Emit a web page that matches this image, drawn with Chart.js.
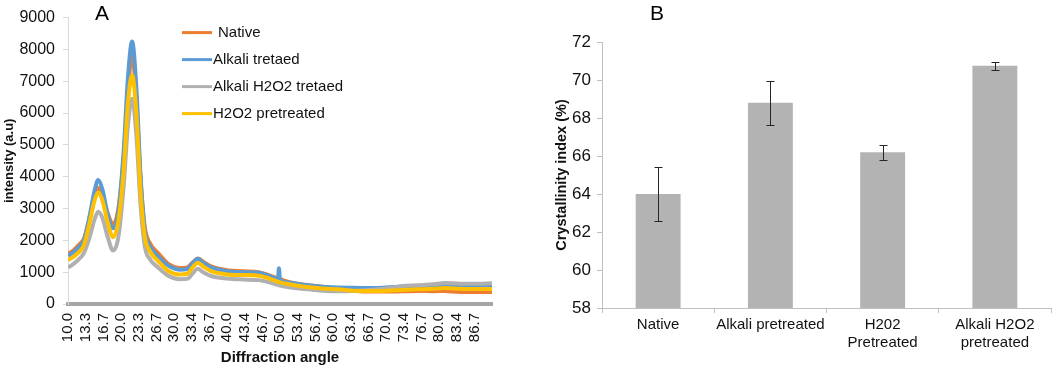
<!DOCTYPE html>
<html>
<head>
<meta charset="utf-8">
<script src="https://cdn.jsdelivr.net/npm/chart.js@4.4.1/dist/chart.umd.min.js"></script>
<style>
  body { margin: 0; background: #fff; width: 1059px; height: 368px; position: relative; overflow: hidden; font-family: 'Liberation Sans', Arial, sans-serif; }
  .panel { position: absolute; top: 0; }
  .tag { position: absolute; font-size: 21px; color: #000; line-height: 1; }
</style>
</head>
<body>
<div class="panel" style="left:0"><canvas id="xrdChart" width="510" height="368"></canvas></div>
<div class="panel" style="left:530px"><canvas id="ciChart" width="529" height="368"></canvas></div>
<div class="tag" style="left:95px;top:2px">A</div>
<div class="tag" style="left:650px;top:2px">B</div>
<script>
// panel A: XRD patterns
var angles = [10, 11, 12, 13, 14, 15, 15.7, 16.5, 17.5, 18.5, 19.5, 20.5, 21.3, 22.1, 22.9, 23.7, 24.5, 25.5,
  27, 29, 31, 32.5, 33.5, 34.5, 35.5, 37, 40, 43, 46, 48, 49.6, 49.8, 50, 52, 54, 56, 58, 61, 64, 67,
  70, 73, 76, 79, 81, 84, 87, 90];
var nativeInt = [1580, 1680, 1850, 2050, 2650, 3350, 3650, 3400, 2850, 2500, 3000, 4600, 6700, 7800, 6400, 3900, 2400, 1900,
  1600, 1250, 1130, 1150, 1300, 1430, 1330, 1180, 1060, 1030, 1000, 900, 800, 790, 780, 680, 620, 580, 540, 480, 420, 390,
  390, 400, 410, 400, 410, 380, 380, 380];
var alkaliInt = [1520, 1620, 1780, 2000, 2700, 3550, 3900, 3600, 2800, 2380, 2900, 4800, 7100, 8250, 6800, 4000, 2300, 1800,
  1500, 1200, 1080, 1100, 1280, 1420, 1300, 1150, 1030, 1000, 980, 880, 780, 1120, 760, 670, 610, 570, 540, 520, 510, 500,
  520, 550, 560, 560, 580, 570, 560, 560];
var alkaliH2o2Int = [1150, 1250, 1400, 1600, 2050, 2650, 2900, 2700, 2100, 1680, 2100, 3700, 5600, 6450, 5300, 3100, 1800, 1400,
  1150, 880, 780, 790, 960, 1110, 1000, 880, 800, 770, 750, 680, 600, 590, 580, 520, 480, 450, 420, 400, 410, 440,
  490, 560, 590, 620, 660, 640, 640, 650];
var h2o2Int = [1380, 1480, 1620, 1850, 2500, 3250, 3500, 3250, 2550, 2100, 2600, 4200, 6300, 7200, 6000, 3500, 2100, 1650,
  1350, 1030, 930, 950, 1150, 1300, 1180, 1030, 930, 910, 890, 800, 700, 690, 680, 610, 560, 520, 490, 460, 420, 410,
  420, 440, 460, 480, 500, 480, 470, 470];
var angleTicks = [10.0, 13.3, 16.7, 20.0, 23.3, 26.7, 30.0, 33.4, 36.7, 40.0, 43.4, 46.7, 50.0, 53.4, 56.7, 60.0,
  63.4, 66.7, 70.0, 73.4, 76.7, 80.0, 83.4, 86.7];

// panel B: crystallinity index
var treatments = ['Native', 'Alkali pretreated', ['H202', 'Pretreated'], ['Alkali H2O2', 'pretreated']];
var crystallinity = [64.0, 68.8, 66.2, 70.75];
var crystErr = [1.4, 1.15, 0.4, 0.2];

Chart.defaults.font.family = "'Liberation Sans', Arial, sans-serif";
Chart.defaults.color = '#111';

function pts(ys) {
  return angles.map(function (a, i) { return { x: a, y: ys[i] }; });
}

var legendRows = {
  id: 'legendRows',
  afterDraw: function (chart) {
    var ctx = chart.ctx, a = chart.chartArea;
    ctx.save();
    ctx.font = "15px 'Liberation Sans', Arial, sans-serif";
    ctx.textBaseline = 'middle';
    chart.data.datasets.forEach(function (ds, i) {
      var x = a.left + 114, y = a.top + 15 + i * 27;
      ctx.strokeStyle = ds.borderColor;
      ctx.lineWidth = 3;
      ctx.beginPath(); ctx.moveTo(x, y); ctx.lineTo(x + 30, y); ctx.stroke();
      ctx.fillStyle = '#111';
      ctx.fillText(ds.label, x + (i == 0 ? 36 : 31), y);
    });
    ctx.restore();
  }
};

new Chart(document.getElementById('xrdChart'), {
  type: 'line',
  data: {
    datasets: [
      { label: 'Native', data: pts(nativeInt), borderColor: '#ed7d31', order: 4 },
      { label: 'Alkali tretaed', data: pts(alkaliInt), borderColor: '#5b9bd5', order: 3 },
      { label: 'Alkali H2O2 tretaed', data: pts(alkaliH2o2Int), borderColor: '#b0b0b0', order: 2 },
      { label: 'H2O2 pretreated', data: pts(h2o2Int), borderColor: '#ffc000', order: 1 }
    ]
  },
  options: {
    responsive: false,
    animation: false,
    layout: { padding: { top: 14, right: 18, left: 0, bottom: 0 } },
    elements: {
      point: { radius: 0 },
      line: { borderWidth: 4, cubicInterpolationMode: 'monotone' }
    },
    plugins: { legend: { display: false }, tooltip: { enabled: false } },
    scales: {
      x: {
        type: 'linear', min: 10, max: 90,
        afterBuildTicks: function (s) { s.ticks = angleTicks.map(function (v) { return { value: v }; }); },
        afterFit: function (s) { s.height = 64; },
        ticks: {
          autoSkip: false, minRotation: 90, maxRotation: 90, padding: 9,
          font: { size: 15 },
          callback: function (v) { return v.toFixed(1); }
        },
        grid: { drawOnChartArea: false, drawTicks: false },
        border: { color: '#a6a6a6', width: 4 },
        title: { display: true, text: 'Diffraction angle', font: { size: 15, weight: 'bold' }, padding: { top: 0, bottom: 1 } }
      },
      y: {
        min: 0, max: 9000,
        afterFit: function (s) { s.width = 68; },
        ticks: { stepSize: 1000, padding: 8, font: { size: 16 }, callback: function (v) { return String(v); } },
        grid: { drawOnChartArea: false, tickLength: 5, color: '#d9d9d9' },
        border: { color: '#d9d9d9' },
        title: { display: true, text: 'intensity (a.u)', font: { size: 13, weight: 'bold' }, padding: { top: 2 } }
      }
    }
  },
  plugins: [legendRows]
});

var errorBars = {
  id: 'errorBars',
  afterDatasetsDraw: function (chart) {
    var ctx = chart.ctx, ys = chart.scales.y, meta = chart.getDatasetMeta(0);
    ctx.save();
    ctx.strokeStyle = '#262626';
    ctx.lineWidth = 1;
    meta.data.forEach(function (bar, i) {
      var top = Math.round(ys.getPixelForValue(crystallinity[i] + crystErr[i])) + 0.5;
      var bot = Math.round(ys.getPixelForValue(crystallinity[i] - crystErr[i])) + 0.5;
      var x = Math.round(bar.x) + 0.5;
      ctx.beginPath();
      ctx.moveTo(x, top); ctx.lineTo(x, bot);
      ctx.moveTo(x - 4, top); ctx.lineTo(x + 4, top);
      ctx.moveTo(x - 4, bot); ctx.lineTo(x + 4, bot);
      ctx.stroke();
    });
    ctx.restore();
  }
};

new Chart(document.getElementById('ciChart'), {
  type: 'bar',
  data: {
    labels: treatments,
    datasets: [{ data: crystallinity, backgroundColor: '#b3b3b3', barPercentage: 0.4, categoryPercentage: 1 }]
  },
  options: {
    responsive: false,
    animation: false,
    layout: { padding: { top: 42, right: 8, left: 0, bottom: 0 } },
    plugins: { legend: { display: false }, tooltip: { enabled: false } },
    scales: {
      x: {
        afterFit: function (s) { s.height = 60; },
        ticks: { padding: 3, font: { size: 15 }, maxRotation: 0 },
        grid: { drawOnChartArea: false, tickLength: 5, color: '#bfbfbf' },
        border: { color: '#bfbfbf' }
      },
      y: {
        min: 58, max: 72,
        afterFit: function (s) { s.width = 72; },
        ticks: { stepSize: 2, padding: 6, font: { size: 17 } },
        grid: { drawOnChartArea: false, tickLength: 5, color: '#bfbfbf' },
        border: { color: '#bfbfbf' },
        title: { display: true, text: 'Crystallinity index (%)', font: { size: 14.5, weight: 'bold' }, padding: { top: 23 } }
      }
    }
  },
  plugins: [errorBars]
});
</script>
</body>
</html>
